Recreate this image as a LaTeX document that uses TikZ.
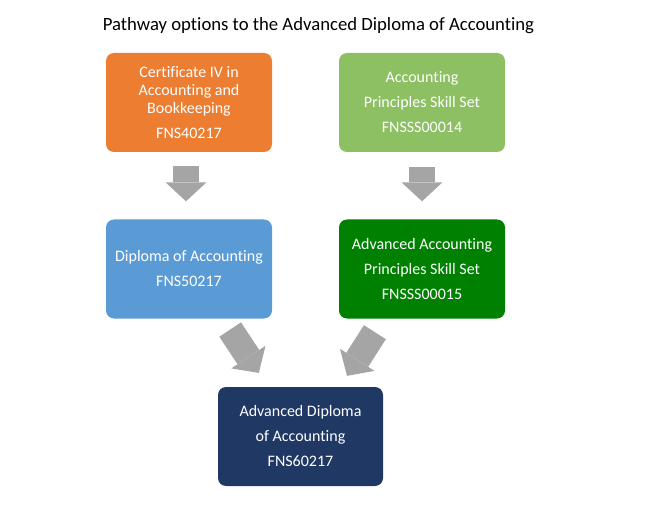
\documentclass[tikz,border=0pt]{standalone}
\usepackage{fontspec}
\setmainfont{Carlito}[Ligatures=NoCommon]
\usetikzlibrary{arrows.meta}

\definecolor{certorange}{HTML}{ED7D31}
\definecolor{skillgreen}{HTML}{8CC063}
\definecolor{dipblue}{HTML}{5B9BD5}
\definecolor{advgreen}{HTML}{008000}
\definecolor{advnavy}{HTML}{203864}
\definecolor{arrowgray}{HTML}{A5A5A5}

\tikzset{
  course/.style={rounded corners=8pt, text=white, align=center,
    minimum width=166pt, minimum height=99pt, inner sep=0pt,
    font=\fontsize{16}{25}\selectfont},
  blockarrow/.style={draw=arrowgray, line width=26pt,
    -{Triangle[width=41pt,length=19pt,line width=0pt]}}
}

\begin{document}
\begin{tikzpicture}[x=1pt,y=-1pt]
      \useasboundingbox (0,0) rectangle (664,505);

      \node (title) at (318.5,26){\fontsize{18.7}{22}\selectfont Pathway options to the Advanced Diploma of Accounting};

      \node[course, fill=certorange, font=\fontsize{16}{18}\selectfont] (cert) at (189,102.5){Certificate IV in\\Accounting and\\Bookkeeping\\[7pt]FNS40217};
      \node[course, fill=skillgreen] (skill) at (422,102.5){Accounting\\Principles Skill Set\\FNSSS00014};
      \node[course, fill=dipblue] (dip) at (189,269){Diploma of Accounting\\FNS50217};
      \node[course, fill=advgreen] (advskill) at (422,269){Advanced Accounting\\Principles Skill Set\\FNSSS00015};
      \node[course, fill=advnavy, minimum width=165pt] (advdip) at (300.5,436.5){Advanced Diploma\\of Accounting\\FNS60217};

      \draw[blockarrow, shorten <=14pt, shorten >=18pt] ([xshift=-3pt]cert.south) -- ([xshift=-3pt]dip.north);
      \draw[blockarrow, shorten <=15pt, shorten >=18pt] (skill.south) -- (advskill.north);
      \draw[blockarrow, shorten <=13pt, shorten >=16.6pt] ([xshift=34pt]dip.south) -- ([xshift=-32.5pt]advdip.north);
      \draw[blockarrow, shorten <=16pt, shorten >=13pt] ([xshift=-38.5pt]advskill.south) -- ([xshift=39.5pt]advdip.north);
\end{tikzpicture}
\end{document}
